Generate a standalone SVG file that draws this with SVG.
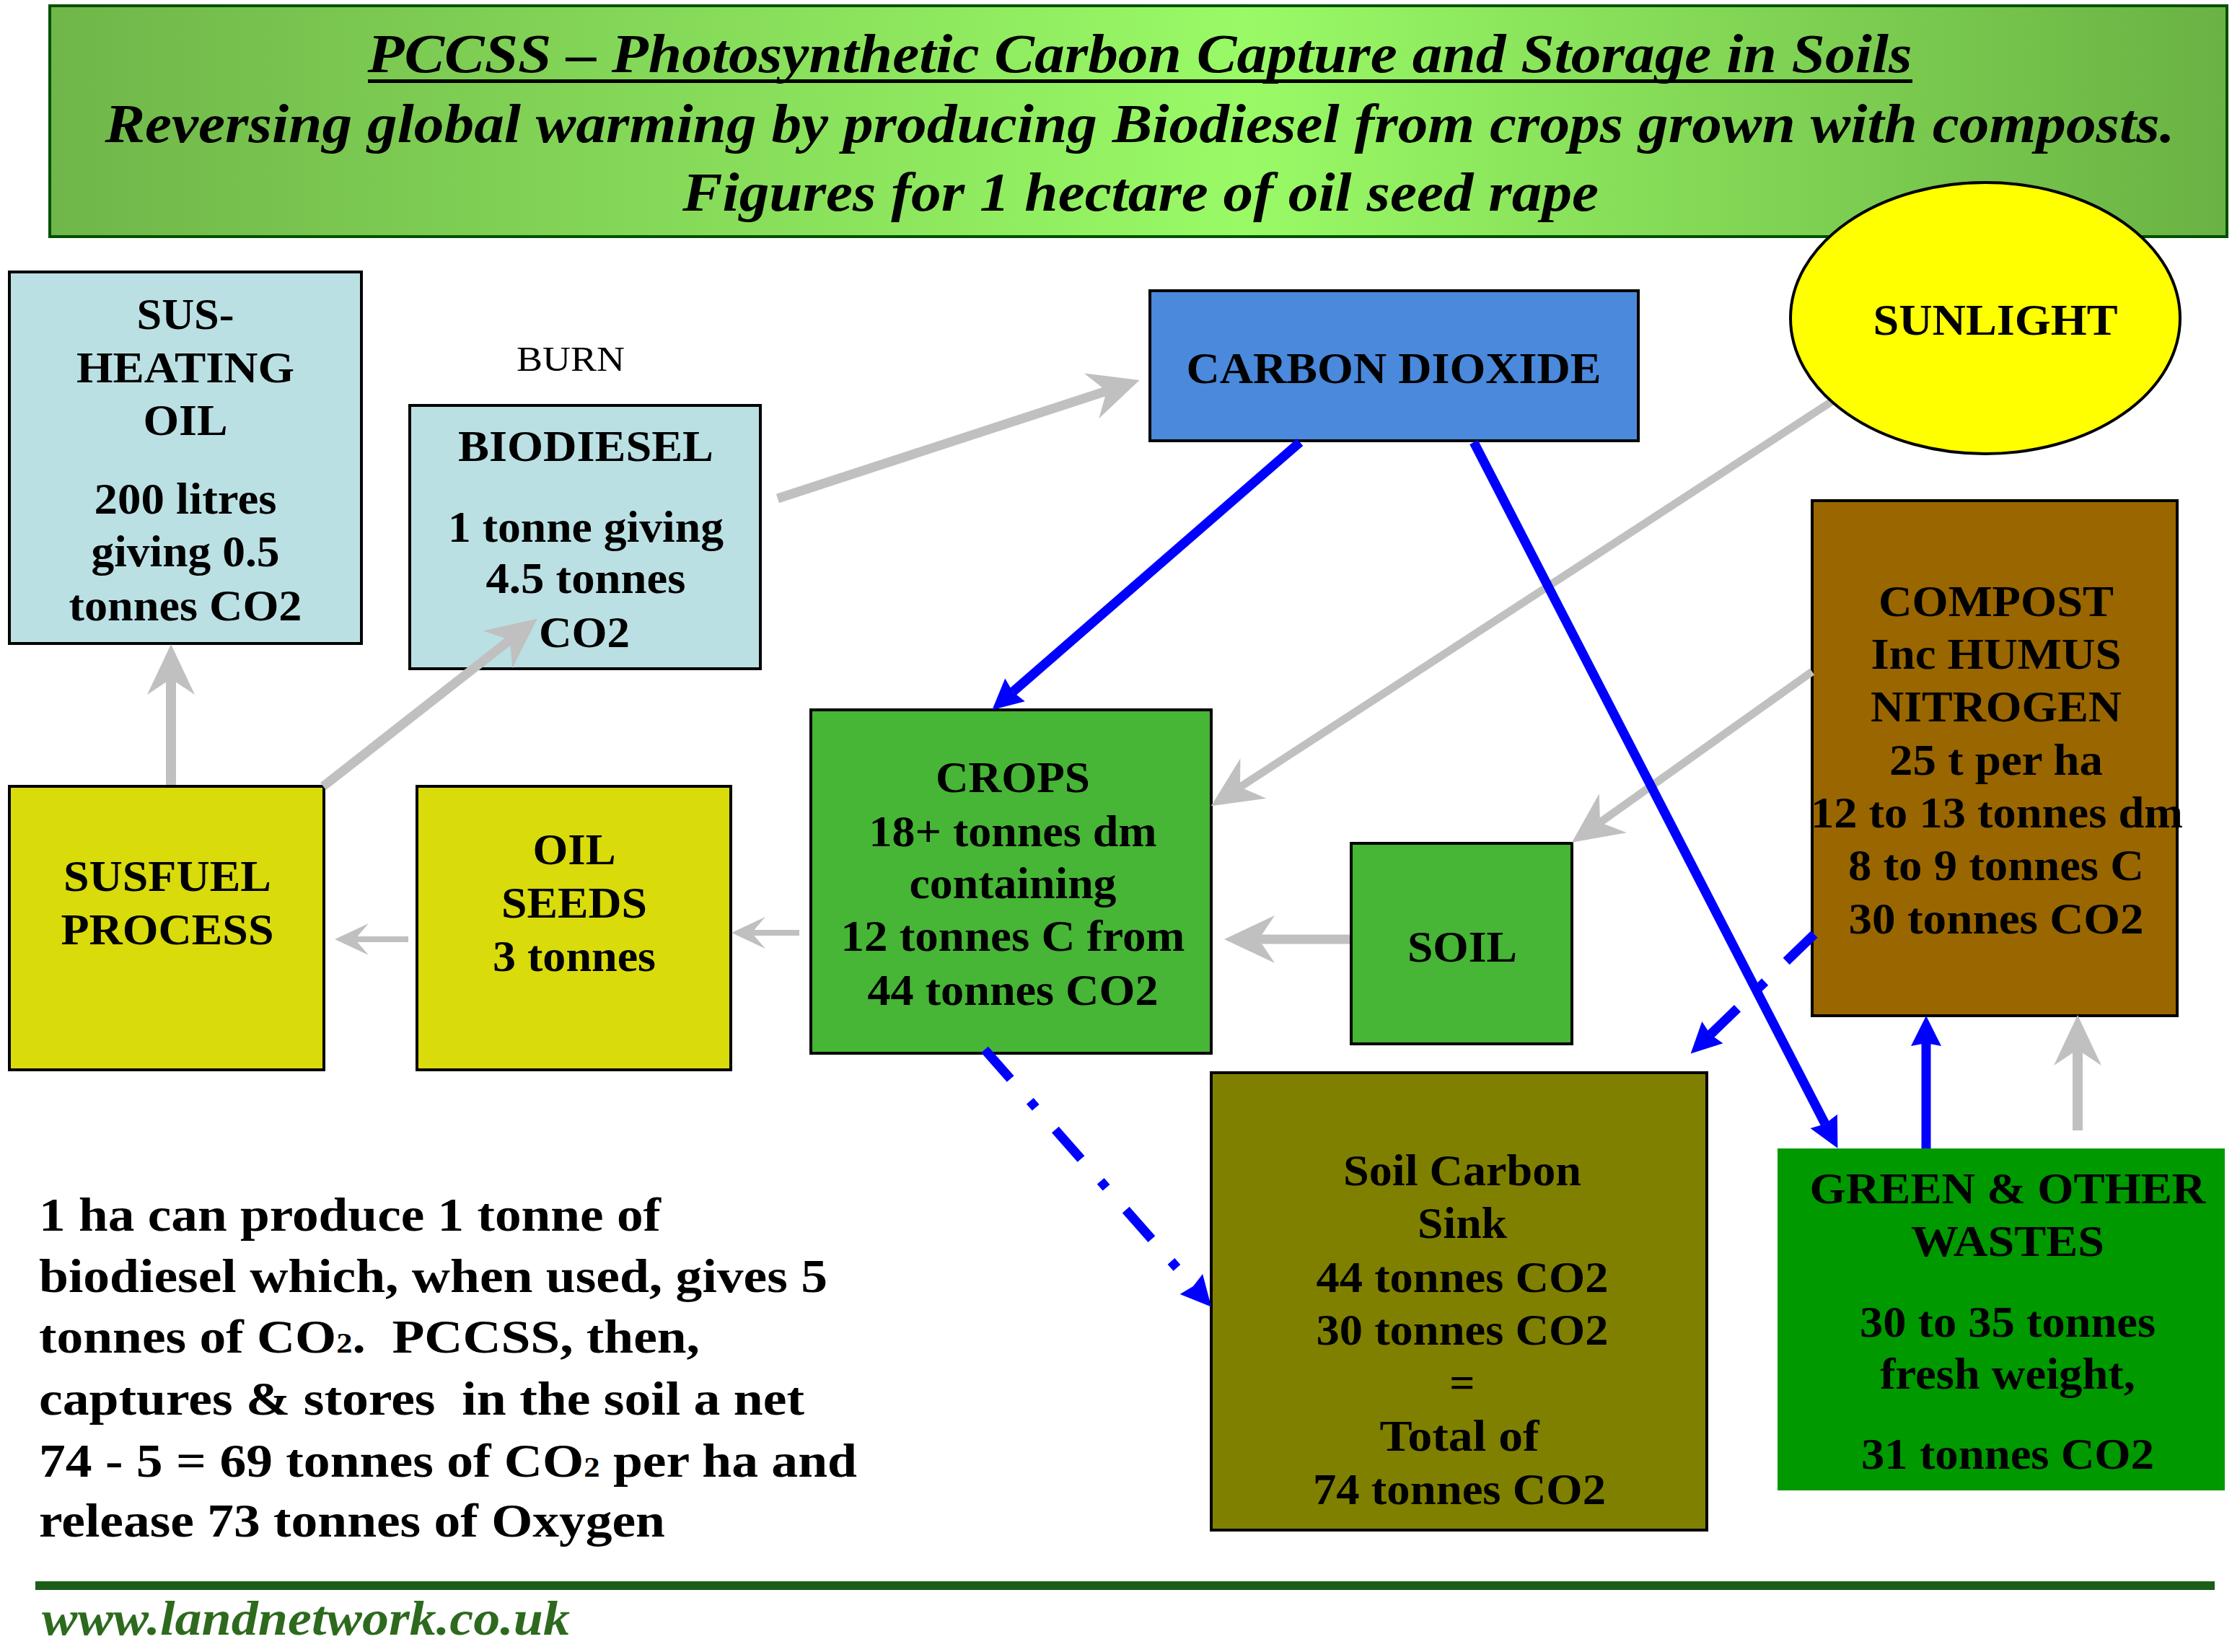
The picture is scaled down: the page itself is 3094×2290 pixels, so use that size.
<svg xmlns="http://www.w3.org/2000/svg" width="3094" height="2290" viewBox="0 0 3094 2290">
<style>
.box{stroke:#000;stroke-width:4}
.t{font-family:"Liberation Serif","Times New Roman",serif;font-weight:bold;font-size:62px;text-anchor:middle;fill:#000}
.ttl{font-family:"Liberation Serif","Times New Roman",serif;font-weight:bold;font-style:italic;font-size:76px;text-anchor:middle;fill:#000}
.p{font-family:"Liberation Serif","Times New Roman",serif;font-weight:bold;font-size:66px;fill:#000}
.gray{stroke:#C0C0C0;fill:none}
.blue{stroke:#0000FF;fill:none;stroke-width:13}
.dd{stroke-dasharray:54 41 12 41}
</style>
<defs>
<linearGradient id="tg" x1="0" y1="0" x2="1" y2="0">
<stop offset="0" stop-color="#70B64A"/>
<stop offset="0.55" stop-color="#99FA66"/>
<stop offset="1" stop-color="#6AB244"/>
</linearGradient>
<marker id="gBig" markerUnits="userSpaceOnUse" orient="auto" refX="0" refY="0" markerWidth="100" markerHeight="100" overflow="visible">
<path d="M48,0 L-22,-33 L0,0 L-22,33 Z" fill="#C0C0C0"/>
</marker>
<marker id="gSmall" markerUnits="userSpaceOnUse" orient="auto" refX="0" refY="0" markerWidth="100" markerHeight="100" overflow="visible">
<path d="M28,0 L-19,-22 L0,0 L-19,22 Z" fill="#C0C0C0"/>
</marker>
<marker id="bArr" markerUnits="userSpaceOnUse" orient="auto" refX="0" refY="0" markerWidth="100" markerHeight="100" overflow="visible">
<path d="M38,0 L-4,-21 L0,0 L-4,21 Z" fill="#0000FF"/>
</marker>
</defs>
<rect width="3094" height="2290" fill="#FFFFFF"/>

<g id="title">
<rect x="69" y="8" width="3018" height="320" fill="url(#tg)" stroke="#005000" stroke-width="4"/>
<text class="ttl" x="1580" y="100" textLength="2141" lengthAdjust="spacingAndGlyphs">PCCSS – Photosynthetic Carbon Capture and Storage in Soils</text>
<rect x="510" y="110" width="2141" height="5" fill="#000"/>
<text class="ttl" x="1580" y="197" textLength="2869" lengthAdjust="spacingAndGlyphs">Reversing global warming by producing Biodiesel from crops grown with composts.</text>
<text class="ttl" x="1581" y="292" textLength="1270" lengthAdjust="spacingAndGlyphs">Figures for 1 hectare of oil seed rape</text>
</g>

<g id="sus-heating-oil">
<rect class="box" x="13" y="377" width="488" height="515" fill="#BBE0E3"/>
<text class="t" x="257" y="456" textLength="135" lengthAdjust="spacingAndGlyphs">SUS-</text>
<text class="t" x="257" y="530" textLength="302" lengthAdjust="spacingAndGlyphs">HEATING</text>
<text class="t" x="257" y="603" textLength="117" lengthAdjust="spacingAndGlyphs">OIL</text>
<text class="t" x="257" y="712" textLength="253" lengthAdjust="spacingAndGlyphs">200 litres</text>
<text class="t" x="257" y="785" textLength="261" lengthAdjust="spacingAndGlyphs">giving 0.5</text>
<text class="t" x="257" y="860" textLength="323" lengthAdjust="spacingAndGlyphs">tonnes CO2</text>
</g>

<g id="burn-label">
<text x="791" y="514" font-family="Liberation Serif, serif" font-size="48" text-anchor="middle" textLength="150" lengthAdjust="spacingAndGlyphs">BURN</text>
</g>

<g id="biodiesel">
<rect class="box" x="568" y="562" width="486" height="365" fill="#BBE0E3"/>
<text class="t" x="812" y="639" textLength="354" lengthAdjust="spacingAndGlyphs">BIODIESEL</text>
<text class="t" x="812" y="751" textLength="382" lengthAdjust="spacingAndGlyphs">1 tonne giving</text>
<text class="t" x="812" y="822" textLength="277" lengthAdjust="spacingAndGlyphs">4.5 tonnes</text>
<text class="t" x="810" y="897" textLength="126" lengthAdjust="spacingAndGlyphs">CO2</text>
</g>

<g id="carbon-dioxide">
<rect class="box" x="1594" y="403" width="677" height="208" fill="#4A89DC"/>
<text class="t" x="1932" y="531" textLength="575" lengthAdjust="spacingAndGlyphs">CARBON DIOXIDE</text>
</g>

<g id="compost">
<rect class="box" x="2512" y="694" width="506" height="714" fill="#996600"/>
<text class="t" x="2767" y="854" textLength="326" lengthAdjust="spacingAndGlyphs">COMPOST</text>
<text class="t" x="2767" y="927" textLength="347" lengthAdjust="spacingAndGlyphs">Inc HUMUS</text>
<text class="t" x="2767" y="1000" textLength="348" lengthAdjust="spacingAndGlyphs">NITROGEN</text>
<text class="t" x="2767" y="1074" textLength="296" lengthAdjust="spacingAndGlyphs">25 t per ha</text>
<text class="t" x="2768" y="1147" textLength="516" lengthAdjust="spacingAndGlyphs">12 to 13 tonnes dm</text>
<text class="t" x="2767" y="1220" textLength="410" lengthAdjust="spacingAndGlyphs">8 to 9 tonnes C</text>
<text class="t" x="2767" y="1294" textLength="409" lengthAdjust="spacingAndGlyphs">30 tonnes CO2</text>
</g>

<g id="crops">
<rect class="box" x="1124" y="984" width="555" height="476" fill="#47B536"/>
<text class="t" x="1404" y="1098" textLength="214" lengthAdjust="spacingAndGlyphs">CROPS</text>
<text class="t" x="1404" y="1173" textLength="399" lengthAdjust="spacingAndGlyphs">18+ tonnes dm</text>
<text class="t" x="1404" y="1245" textLength="287" lengthAdjust="spacingAndGlyphs">containing</text>
<text class="t" x="1404" y="1318" textLength="477" lengthAdjust="spacingAndGlyphs">12 tonnes C from</text>
<text class="t" x="1404" y="1393" textLength="403" lengthAdjust="spacingAndGlyphs">44 tonnes CO2</text>
</g>

<g id="soil">
<rect class="box" x="1873" y="1169" width="306" height="278" fill="#47B536"/>
<text class="t" x="2027" y="1333" textLength="152" lengthAdjust="spacingAndGlyphs">SOIL</text>
</g>

<g id="susfuel-process">
<rect class="box" x="13" y="1090" width="436" height="393" fill="#D9DB0B"/>
<text class="t" x="232" y="1235" textLength="288" lengthAdjust="spacingAndGlyphs">SUSFUEL</text>
<text class="t" x="232" y="1309" textLength="295" lengthAdjust="spacingAndGlyphs">PROCESS</text>
</g>

<g id="oil-seeds">
<rect class="box" x="578" y="1090" width="435" height="393" fill="#D9DB0B"/>
<text class="t" x="796" y="1198" textLength="115" lengthAdjust="spacingAndGlyphs">OIL</text>
<text class="t" x="796" y="1272" textLength="202" lengthAdjust="spacingAndGlyphs">SEEDS</text>
<text class="t" x="796" y="1346" textLength="226" lengthAdjust="spacingAndGlyphs">3 tonnes</text>
</g>

<g id="soil-carbon-sink">
<rect class="box" x="1679" y="1487" width="687" height="634" fill="#808000"/>
<text class="t" x="2027" y="1643" textLength="330" lengthAdjust="spacingAndGlyphs">Soil Carbon</text>
<text class="t" x="2027" y="1716" textLength="124" lengthAdjust="spacingAndGlyphs">Sink</text>
<text class="t" x="2027" y="1791" textLength="405" lengthAdjust="spacingAndGlyphs">44 tonnes CO2</text>
<text class="t" x="2027" y="1864" textLength="405" lengthAdjust="spacingAndGlyphs">30 tonnes CO2</text>
<text class="t" x="2027" y="1937">=</text>
<text class="t" x="2023" y="2011" textLength="221" lengthAdjust="spacingAndGlyphs">Total of</text>
<text class="t" x="2023" y="2085" textLength="406" lengthAdjust="spacingAndGlyphs">74 tonnes CO2</text>
</g>

<g id="green-wastes">
<rect x="2464" y="1592" width="620" height="474" fill="#009900"/>
<text class="t" x="2783" y="1668" textLength="549" lengthAdjust="spacingAndGlyphs">GREEN &amp; OTHER</text>
<text class="t" x="2783" y="1741" textLength="268" lengthAdjust="spacingAndGlyphs">WASTES</text>
<text class="t" x="2783" y="1853" textLength="410" lengthAdjust="spacingAndGlyphs">30 to 35 tonnes</text>
<text class="t" x="2783" y="1925" textLength="354" lengthAdjust="spacingAndGlyphs">fresh weight,</text>
<text class="t" x="2783" y="2036" textLength="406" lengthAdjust="spacingAndGlyphs">31 tonnes CO2</text>
</g>

<g id="connectors">
<line class="gray" x1="1078" y1="691" x2="1534" y2="542" stroke-width="13" marker-end="url(#gBig)"/>
<line class="gray" x1="2540" y1="556" x2="1719" y2="1091" stroke-width="11" marker-end="url(#gBig)"/>
<line class="gray" x1="2512" y1="931" x2="2218" y2="1140" stroke-width="11" marker-end="url(#gBig)"/>
<line class="gray" x1="1871" y1="1302" x2="1745" y2="1302" stroke-width="13" marker-end="url(#gBig)"/>
<line class="gray" x1="237" y1="1088" x2="237" y2="941" stroke-width="14" marker-end="url(#gBig)"/>
<line class="gray" x1="448" y1="1090" x2="707" y2="887" stroke-width="13" marker-end="url(#gBig)"/>
<line class="gray" x1="2880" y1="1567" x2="2880" y2="1455" stroke-width="14" marker-end="url(#gBig)"/>
<line class="gray" x1="1108" y1="1293" x2="1042" y2="1293" stroke-width="8" marker-end="url(#gSmall)"/>
<line class="gray" x1="566" y1="1302" x2="492" y2="1302" stroke-width="8" marker-end="url(#gSmall)"/>
<line class="blue" x1="1802" y1="613" x2="1404" y2="959" marker-end="url(#bArr)"/>
<line class="blue" x1="2043" y1="613" x2="2530" y2="1558" marker-end="url(#bArr)"/>
<line class="blue" x1="2670" y1="1592" x2="2670" y2="1446" stroke-width="14" marker-end="url(#bArr)"/>
<line class="blue dd" x1="1365" y1="1455" x2="1654" y2="1783" marker-end="url(#bArr)"/>
<line class="blue dd" x1="2515" y1="1295" x2="2371" y2="1434" marker-end="url(#bArr)"/>
</g>

<g id="sunlight">
<ellipse cx="2752" cy="441" rx="270" ry="188" fill="#FFFF00" stroke="#000" stroke-width="4"/>
<text class="t" x="2766" y="464" font-size="64" textLength="339" lengthAdjust="spacingAndGlyphs">SUNLIGHT</text>
</g>

<g id="summary-text">
<text class="p" x="54" y="1706" textLength="862" lengthAdjust="spacingAndGlyphs">1 ha can produce 1 tonne of</text>
<text class="p" x="54" y="1791" textLength="1093" lengthAdjust="spacingAndGlyphs">biodiesel which, when used, gives 5</text>
<text class="p" x="54" y="1875" textLength="916" lengthAdjust="spacingAndGlyphs" xml:space="preserve">tonnes of CO<tspan font-size="40">2</tspan>.  PCCSS, then,</text>
<text class="p" x="54" y="1961" textLength="1061" lengthAdjust="spacingAndGlyphs" xml:space="preserve">captures &amp; stores  in the soil a net</text>
<text class="p" x="54" y="2047" textLength="1134" lengthAdjust="spacingAndGlyphs">74 - 5 = 69 tonnes of CO<tspan font-size="40">2</tspan> per ha and</text>
<text class="p" x="54" y="2130" textLength="868" lengthAdjust="spacingAndGlyphs">release 73 tonnes of Oxygen</text>
</g>

<g id="footer">
<rect x="49" y="2192" width="3021" height="12" fill="#1A5E1A"/>
<text x="58" y="2266" font-family="Liberation Serif, serif" font-weight="bold" font-style="italic" font-size="68" fill="#2D6A1E" textLength="732" lengthAdjust="spacingAndGlyphs">www.landnetwork.co.uk</text>
</g>
</svg>
